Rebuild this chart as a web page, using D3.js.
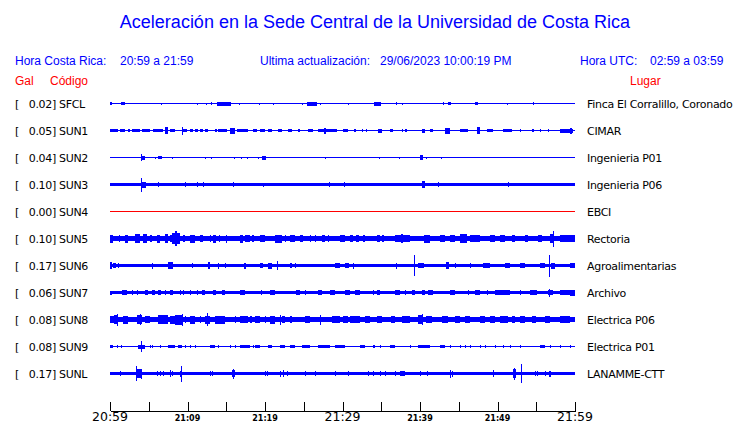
<!DOCTYPE html>
<html><head><meta charset="utf-8">
<script src="https://cdn.jsdelivr.net/npm/d3@7"></script>
<style>html,body{margin:0;padding:0;background:#fff;}svg{display:block;}</style>
</head><body>
<script>
// ---- data ----
const codes = ["SFCL","SUN1","SUN2","SUN3","SUN4","SUN5","SUN6","SUN7","SUN8","SUN9","SUNL"];
const galValues = [0.02,0.05,0.04,0.10,0.00,0.10,0.17,0.06,0.08,0.08,0.17];
const places = ["Finca El Corralillo, Coronado","CIMAR","Ingenieria P01","Ingenieria P06","EBCI","Rectoria","Agroalimentarias","Archivo","Electrica P06","Electrica P01","LANAMME-CTT"];
// base (noise) half-amplitude per station, relative units
const baseAmp = [0.6,0.6,0.6,1.7,0.5,2.7,1.7,1.4,2.3,0.8,1.9];
// bursts: [start minute, end minute, half-amplitude]
const sfclBursts = [[0,0.3,1.5],[1.4,1.9,1.5],[6.6,6.6,1],[11.2,11.2,1],[12.4,12.4,1],[13.0,13.0,1.5],[13.8,15.6,2],[16.6,16.6,1],[19.2,19.2,1],[21.0,21.0,1],[24.8,24.8,1],[25.4,26.7,2],[27.1,27.1,1],[30.7,30.7,1],[34.0,35.0,2],[36.9,36.9,1.5],[37.7,37.7,1],[43.0,43.0,1.5],[43.6,44.0,1.5],[47.1,47.5,1.5],[51.2,51.2,1],[54.6,54.6,1.5]];
const sun1Bursts = [[0,1.0,1.5],[1.3,1.9,1.5],[2.3,2.6,1.5],[2.8,3.9,1.5],[4.1,5.2,1.5],[5.5,6.8,1.5],[7.1,7.5,3.5],[7.7,8.4,1.5],[9.3,9.3,4],[9.4,9.9,1.5],[10.3,10.7,1.5],[11.0,11.4,1.5],[11.6,12.0,1.5],[12.3,12.6,1.5],[13.5,13.8,1.5],[13.9,15.1,1.5],[15.5,16.1,3],[16.4,17.8,1.5],[18.5,19.0,1.5],[19.4,20.0,1.5],[20.4,20.9,1.5],[21.7,22.2,1.5],[23.0,23.5,1.5],[24.3,24.5,1.5],[25.5,26.2,1.5],[26.8,29.3,1.8],[27.6,27.9,3],[30.1,30.7,1.5],[31.5,31.7,1.5],[32.5,32.7,1.5],[33.0,33.2,1.5],[34.6,35.1,2],[36.1,36.5,1.5],[37.7,37.7,1.5],[38.1,38.3,1.5],[40.3,40.6,2],[41.3,41.7,1.5],[43.2,43.9,3],[45.2,46.2,1.5],[47.4,47.7,3.5],[48.6,49.4,1.5],[50.7,51.9,1.8],[52.9,52.9,1.5],[54.5,54.7,1.5],[55.5,55.5,1.5],[56.5,56.5,1.5],[58.1,59.7,2],[59.4,59.6,3]];
const sun2Bursts = [[4.0,4.0,3.5],[4.0,4.5,2],[5.8,5.8,1],[6.2,6.7,1.5],[8.0,8.0,1],[12.3,12.3,1],[13.0,13.0,1],[16.0,16.0,1],[16.9,16.9,1],[17.7,17.7,1],[19.1,19.1,1],[19.6,20.1,2],[27.7,27.7,1],[34.7,34.7,1],[37.3,37.3,1],[40.0,40.4,2.5],[40.8,40.8,1],[42.7,42.7,1]];
const sun3Bursts = [[4.0,4.0,7],[4.0,4.6,3],[6.2,6.2,2.5],[9.7,9.7,2.5],[11.2,11.2,2.5],[12.0,12.0,2.5],[15.9,15.9,2.5],[19.7,19.7,2],[28.3,28.3,2.5],[30.2,30.2,2.5],[40.3,40.6,3.5],[42.3,42.3,2.5],[51.4,51.4,2.5]];
const sun4Bursts = [];
const sun5Bursts = [[0,0.4,4],[1.1,1.3,3.5],[1.9,2.3,4],[3.2,3.9,4.5],[4.3,4.8,4.5],[5.2,5.4,3.5],[6.1,6.5,4],[7.1,7.5,4.5],[7.7,8.0,3.5],[8.0,9.0,5.5],[8.4,8.6,7.5],[9.4,9.7,3.5],[10.3,11.0,4],[11.6,12.0,3.5],[12.9,12.9,3.5],[13.3,13.7,4],[14.0,14.0,3.5],[15.0,15.0,4],[16.8,17.2,4],[17.4,18.1,3.5],[18.3,18.6,3.5],[19.4,20.0,3.5],[21.3,22.2,4],[22.6,22.6,3.5],[23.2,23.9,3.5],[24.5,24.9,3.5],[25.8,25.8,3.5],[26.5,26.5,3.5],[27.4,27.7,3.5],[28.1,28.1,3.5],[29.7,30.3,3.5],[31.0,31.3,3.5],[31.8,32.1,3.5],[32.6,32.9,3.5],[34.5,34.8,3.5],[35.1,35.4,3.5],[36.8,38.7,3.5],[37.5,37.8,4.5],[40.5,41.3,4],[42.6,43.2,3.5],[43.9,44.5,3.5],[45.2,46.0,4.5],[46.5,47.7,3.5],[49.0,49.7,3.5],[50.3,51.0,3.5],[51.9,52.3,3.5],[53.5,53.9,3.5],[55.2,55.7,3.5],[56.8,57.2,4.5],[57.2,57.2,8],[58.1,60,3.5]];
const sun6Bursts = [[0,0.3,3.5],[0.4,0.8,2.5],[1.0,1.0,2.5],[5.4,5.4,3],[7.5,8.1,3.5],[10.6,10.6,2.5],[12.6,12.9,3.5],[13.9,13.9,3],[14.8,14.8,2.5],[17.3,17.5,3],[19.4,19.8,2.5],[20.4,20.9,3],[21.5,21.5,4.5],[23.2,23.5,2.5],[23.9,23.9,2.5],[29.0,29.7,2.5],[30.3,30.8,2.5],[31.3,31.3,3],[36.9,36.9,3],[39.2,39.2,10.5],[39.7,40.5,2.5],[43.3,43.8,3.5],[44.5,44.5,2.5],[46.5,46.5,2.5],[48.1,49.0,2.5],[51.0,51.6,2.5],[52.9,53.5,2.5],[55.5,56.1,2.5],[56.6,56.6,11],[56.9,57.4,3],[59.4,60,2.5]];
const sun7Bursts = [[0,0.3,2],[1.6,2.2,2.8],[2.9,2.9,2.2],[3.5,3.5,2.2],[4.5,4.9,2.2],[5.4,5.8,2.2],[6.2,6.6,2.5],[7.1,7.1,2.2],[7.7,8.1,2.8],[9.0,9.0,2.2],[9.4,9.4,2.2],[10.3,10.3,2.2],[11.2,11.2,2.2],[11.9,12.3,2.5],[13.3,13.7,2.2],[14.5,14.8,2.2],[16.8,17.4,2.2],[19.5,19.5,2.2],[20.6,21.3,2.2],[24.0,24.5,2.5],[25.2,25.2,2.5],[26.8,27.4,2.2],[28.4,29.0,2.2],[30.3,31.0,2.2],[31.6,32.3,2.2],[33.9,33.9,2.2],[34.5,34.9,2.2],[36.8,37.4,2.2],[38.1,38.1,2.2],[39.0,39.4,2.2],[40.3,40.6,2.5],[41.0,41.7,2.2],[43.9,44.5,2.2],[46.2,46.2,2.2],[47.1,47.7,2.2],[48.6,48.6,2.2],[49.7,51.6,2.2],[52.9,52.9,2.2],[54.2,55.1,2.2],[56.5,57.2,2.5],[56.6,56.6,4],[58.1,59.4,2.5],[59.4,60,3]];
const sun8Bursts = [[0,1.0,3.5],[0.5,1.0,4.5],[0.85,0.85,6],[1.7,2.3,4],[3.5,4.1,4.5],[3.9,3.9,5.5],[4.5,5.2,3.5],[6.2,7.5,4.5],[7.7,9.0,4],[8.4,9.4,5],[9.25,9.25,6],[9.7,9.7,3.5],[10.3,11.0,4],[11.6,11.6,3.5],[12.3,12.9,4],[12.5,12.5,6.5],[13.5,14.8,4],[16.1,16.1,3.5],[16.8,17.8,3.5],[18.1,18.3,3.5],[18.7,19.4,3.5],[20.0,20.0,3.5],[20.6,21.3,4],[21.9,21.9,5],[22.2,22.6,3.5],[23.2,23.5,3.5],[25.2,25.8,3.5],[27.1,27.1,5],[28.7,29.7,3.5],[30.1,30.7,3.5],[31.0,32.3,3.5],[32.9,33.5,3.5],[34.5,35.1,3.5],[36.3,36.8,3.5],[37.7,38.7,3.5],[39.7,40.3,4.5],[40.2,40.2,5.5],[40.8,41.6,3.5],[42.8,43.6,3.5],[44.5,45.2,3.5],[45.8,46.5,3.5],[47.7,48.4,3.5],[49.0,49.7,3.5],[50.3,51.4,3.5],[51.9,52.3,3.5],[52.9,53.5,3.5],[54.5,55.0,3.5],[56.1,56.8,3.5],[58.1,59.4,3.5]];
const sun9Bursts = [[0,0.4,1.5],[0.9,0.9,1.5],[1.4,1.4,1.5],[3.6,4.5,2],[4.0,4.0,5.3],[5.2,5.2,1.5],[5.4,5.4,1.5],[6.5,6.5,1.5],[7.5,8.4,1.8],[8.8,9.3,1.5],[9.7,9.7,1.5],[10.3,10.3,1.5],[11.0,11.0,1.5],[12.9,13.5,1.5],[13.9,13.9,1.5],[15.5,15.5,1.5],[16.1,16.1,1.5],[16.8,18.1,1.5],[18.4,18.4,1.5],[18.7,19.4,1.5],[20.4,20.9,1.5],[21.9,22.6,1.5],[23.2,23.9,1.5],[24.8,25.8,1.5],[26.8,28.4,1.5],[29.0,30.3,1.5],[32.3,32.9,1.5],[33.9,34.2,1.5],[34.8,34.8,1.5],[36.1,36.8,1.8],[38.7,38.7,1.5],[39.7,41.3,1.8],[42.6,43.2,1.5],[43.9,43.9,1.5],[45.2,45.2,1.5],[45.8,45.8,1.5],[46.5,46.5,1.5],[47.7,47.7,1.5],[48.4,48.4,1.5],[49.7,49.7,1.5],[50.7,50.7,1.5],[51.6,51.6,1.5],[52.9,52.9,1.5],[55.5,56.1,1.5],[56.8,56.8,1.5],[58.1,58.1,1.5],[59.4,59.4,1.5]];
const sunlBursts = [[1.3,1.3,2.5],[3.4,4.1,4.5],[3.4,3.4,7.5],[3.6,3.6,4.5],[4.0,4.0,5],[6.1,6.1,2.5],[6.5,6.5,2.5],[6.8,6.8,2.5],[7.7,7.7,3.5],[8.0,8.0,2.5],[9.0,9.0,3],[9.2,9.2,8],[12.9,12.9,2.5],[13.2,13.2,2.5],[15.7,16.1,3.5],[15.9,15.9,5],[20.0,20.0,2.5],[20.2,20.2,2.5],[21.9,21.9,3],[22.3,22.3,3.5],[22.8,22.8,2.5],[25.2,25.2,2.5],[26.5,26.5,2.5],[29.0,29.0,2.5],[30.7,30.7,2.5],[33.3,33.3,2.5],[33.9,33.9,2.5],[34.8,34.8,2.5],[35.5,35.5,2.5],[36.8,36.8,2.5],[37.4,38.1,2.5],[40.0,40.0,2.5],[40.9,40.9,2.5],[43.9,43.9,4],[44.1,44.1,3],[49.4,49.4,3.5],[52.0,52.4,4.5],[52.1,52.1,6],[53.0,53.0,9.5],[54.8,54.8,2.5],[55.1,55.1,2.5],[56.1,56.1,2.5],[56.7,56.9,3]];
const stationBursts = [sfclBursts,sun1Bursts,sun2Bursts,sun3Bursts,sun4Bursts,sun5Bursts,sun6Bursts,sun7Bursts,sun8Bursts,sun9Bursts,sunlBursts];
const tickMinutes = [0,5,10,15,20,25,30,35,40,45,50,55,60];
const labelMinutes = [0,10,20,30,40,50,60];
const tickLabels = ["20:59","21:09","21:19","21:29","21:39","21:49","21:59"];
const majorLabels = ["20:59","21:29","21:59"];
const titleText = "Aceleración en la Sede Central de la Universidad de Costa Rica";
const headerCR = ["Hora Costa Rica:", "20:59 a 21:59"];
const headerUpd = ["Ultima actualización:", "29/06/2023 10:00:19 PM"];
const headerUTC = ["Hora UTC:", "02:59 a 03:59"];

// ---- drawing ----
const W = 740, H = 423;
const BLUE = "#0000ff", RED = "#ff0000";
const svg = d3.select("body").append("svg").attr("width", W).attr("height", H);
const HFONT = "'Liberation Sans', Arial, sans-serif";
const LFONT = "'DejaVu Sans', sans-serif";

svg.append("text").attr("x", 375).attr("y", 28).attr("text-anchor", "middle")
  .attr("font-family", HFONT).attr("font-size", 18).attr("fill", BLUE).text(titleText);

const hdr = (x, t, col) => svg.append("text").attr("x", x).attr("y", 65)
  .attr("font-family", HFONT).attr("font-size", 12).attr("fill", col).text(t);
hdr(15, headerCR[0], BLUE); hdr(120, headerCR[1], BLUE);
hdr(260, headerUpd[0], BLUE); hdr(380, headerUpd[1], BLUE);
hdr(580, headerUTC[0], BLUE); hdr(650, headerUTC[1], BLUE);
const sub = (x, t) => svg.append("text").attr("x", x).attr("y", 85)
  .attr("font-family", HFONT).attr("font-size", 12).attr("fill", RED).text(t);
sub(15, "Gal"); sub(50, "Código"); sub(630, "Lugar");

const x = d3.scaleLinear().domain([0, 60]).range([110, 575]);
const y = d3.scalePoint().domain(codes).range([103.5, 373.5]);
const amp = d3.scaleLinear().domain([0, 10]).range([0, 10]);

const rows = svg.selectAll("g.row").data(codes.map((c, i) => ({code: c, gal: galValues[i], place: places[i], base: baseAmp[i], bursts: stationBursts[i]})))
  .join("g").attr("class", "row").attr("transform", d => `translate(0,${y(d.code)})`);

const lab = (sel) => sel.attr("y", 4).attr("font-family", LFONT).attr("font-size", 11)
  .attr("letter-spacing", -0.3).attr("fill", "#000");
lab(rows.append("text").attr("x", 15).text("["));
lab(rows.append("text").attr("x", 56).attr("text-anchor", "end").text(d => d.gal.toFixed(2) + "]"));
lab(rows.append("text").attr("x", 59).text(d => d.code));
lab(rows.append("text").attr("x", 587).text(d => d.place));

const col = d => d.gal === 0 ? RED : BLUE;
rows.append("rect").attr("x", x(0)).attr("width", x(60) - x(0))
  .attr("y", d => -amp(d.base)).attr("height", d => 2 * amp(d.base))
  .attr("fill", col).attr("shape-rendering", "crispEdges");
rows.each(function(d) {
  d3.select(this).selectAll("rect.b").data(d.bursts).join("rect").attr("class", "b")
    .attr("x", b => x(b[0]))
    .attr("width", b => Math.max(1, x(b[1]) - x(b[0])))
    .attr("y", b => -amp(b[2])).attr("height", b => 2 * amp(b[2]))
    .attr("fill", col(d)).attr("shape-rendering", "crispEdges");
});

// axis
const axisG = svg.append("g").attr("transform", "translate(0,410.5)")
  .call(d3.axisTop(x).tickValues(tickMinutes).tickSize(9).tickSizeOuter(0).tickFormat(""));
axisG.selectAll("path,line").attr("stroke", "#000").attr("shape-rendering", "crispEdges");
svg.selectAll("text.tl").data(labelMinutes).join("text").attr("class", "tl")
  .attr("x", m => x(m)).attr("text-anchor", "middle")
  .attr("y", 420.5)
  .attr("font-family", LFONT)
  .attr("font-size", (m, i) => majorLabels.includes(tickLabels[i]) ? 12.5 : 8)
  .attr("font-weight", (m, i) => majorLabels.includes(tickLabels[i]) ? "normal" : "bold")
  .attr("fill", "#000")
  .text((m, i) => tickLabels[i]);
</script>
</body></html>
